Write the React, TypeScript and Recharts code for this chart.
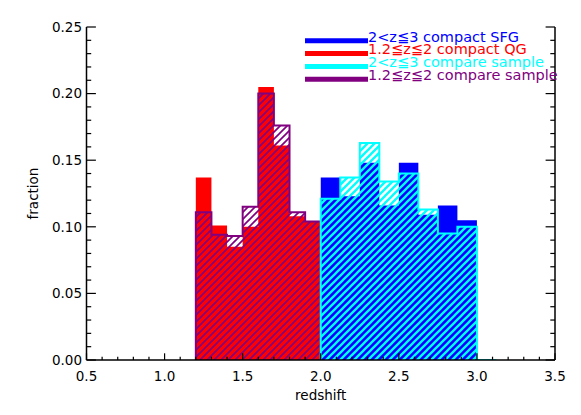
import React from 'react';
import { ComposedChart, Area, XAxis, YAxis, Legend, Label } from 'recharts';

// ---- data ----
const qgEdges = [1.2, 1.3, 1.4, 1.5, 1.6, 1.7, 1.8, 1.9, 2.0];
const compactQG = [0.137, 0.101, 0.085, 0.100, 0.205, 0.161, 0.108, 0.104];
const compareQGEdges = [1.2, 1.3, 1.4, 1.5, 1.6, 1.7, 1.8, 1.9, 2.0, 2.1];
const compareQG = [0.111, 0.094, 0.093, 0.115, 0.200, 0.176, 0.111, 0.104, 0];

const sfgEdges = [2.0, 2.125, 2.25, 2.375, 2.5, 2.625, 2.75, 2.875, 3.0];
const compactSFG = [0.137, 0.123, 0.148, 0.116, 0.148, 0.109, 0.116, 0.105];
const compareSFGEdges = [2.0, 2.125, 2.25, 2.375, 2.5, 2.625, 2.75, 2.875, 3.0, 3.125];
const compareSFG = [0.121, 0.137, 0.163, 0.134, 0.140, 0.113, 0.095, 0.100, 0];

const xMajorTicks = [0.5, 1.0, 1.5, 2.0, 2.5, 3.0, 3.5];
const yMajorTicks = [0.0, 0.05, 0.10, 0.15, 0.20, 0.25];

const legendItems = [
  { label: '2<z≦3 compact SFG', color: '#0000FF' },
  { label: '1.2≦z≦2 compact QG', color: '#FF0000' },
  { label: '2<z≦3 compare sample', color: '#00FFFF' },
  { label: '1.2≦z≦2 compare sample', color: '#800080' },
];

// ---- helpers ----
const xTicks: number[] = [];
for (let i = 5; i <= 35; i++) xTicks.push(i / 10);
const yTicks: number[] = [];
for (let i = 0; i <= 25; i++) yTicks.push(i / 100);

const isMajor = (v: number, list: number[]) => list.some((m) => Math.abs(m - v) < 1e-6);

function toSteps(edges: number[], values: number[]) {
  const pts: { x: number; y: number }[] = [{ x: edges[0], y: 0 }];
  values.forEach((v, i) => pts.push({ x: edges[i], y: v }));
  const n = values.length;
  pts.push({ x: edges[n], y: values[n - 1] });
  pts.push({ x: edges[n], y: 0 });
  return pts;
}

const W = 581;
const H = 415;
const LEFT = 86.5;
const RIGHT = 26;
const TOP = 27;
const BOTTOM = 55;
const FONT = 'DejaVu Sans';
const XMAJ = 6.7, XMIN = 3.3, YMAJ = 9.4, YMIN = 4.7;

const BottomTick = (p: any) => {
  const v = p.payload.value;
  const maj = isMajor(v, xMajorTicks);
  return (
    <g>
      <line x1={p.x} x2={p.x} y1={p.y} y2={p.y - (maj ? XMAJ : XMIN)} stroke="#000" strokeWidth={1.2} />
      {maj && (
        <text x={p.x} y={p.y + 20.5} textAnchor="middle" fontSize={13.5} fontFamily={FONT} fill="#000">
          {v.toFixed(1)}
        </text>
      )}
    </g>
  );
};
const TopTick = (p: any) => {
  const maj = isMajor(p.payload.value, xMajorTicks);
  return <line x1={p.x} x2={p.x} y1={p.y} y2={p.y + (maj ? XMAJ : XMIN)} stroke="#000" strokeWidth={1.2} />;
};
const LeftTick = (p: any) => {
  const v = p.payload.value;
  const maj = isMajor(v, yMajorTicks);
  return (
    <g>
      <line x1={p.x} x2={p.x + (maj ? YMAJ : YMIN)} y1={p.y} y2={p.y} stroke="#000" strokeWidth={1.2} />
      {maj && (
        <text x={p.x - 4.5} y={p.y} dy="0.36em" textAnchor="end" fontSize={13.5} fontFamily={FONT} fill="#000">
          {v.toFixed(2)}
        </text>
      )}
    </g>
  );
};
const RightTick = (p: any) => {
  const maj = isMajor(p.payload.value, yMajorTicks);
  return <line x1={p.x} x2={p.x - (maj ? YMAJ : YMIN)} y1={p.y} y2={p.y} stroke="#000" strokeWidth={1.2} />;
};

const LegendBox = () => (
  <svg width={275} height={62} style={{ overflow: 'visible', display: 'block' }}>
    {legendItems.map((it, i) => {
      const cy = 10.7 + i * 12.85;
      return (
        <g key={it.label}>
          <line x1={5} x2={68} y1={cy} y2={cy} stroke={it.color} strokeWidth={5} />
          <text x={68} y={cy + 0.8} fontSize={14.5} fontFamily={FONT} fill={it.color}>
            {it.label}
          </text>
        </g>
      );
    })}
  </svg>
);

const axisStyle = { stroke: '#000', strokeWidth: 1.5 };

export default function App() {
  return (
    <div style={{ position: 'absolute', left: 0, top: 0, width: W, height: H, background: '#fff' }}>
      <ComposedChart width={W} height={H} margin={{ top: TOP, right: 0, bottom: 0, left: 0 }}>
        <defs>
          <pattern id="hatchPurple" patternUnits="userSpaceOnUse" width={7} height={7}>
            <path d="M-1,1 l2,-2 M0,7 l7,-7 M6,8 l2,-2" stroke="#800080" strokeWidth={1.7} />
          </pattern>
          <pattern id="hatchCyan" patternUnits="userSpaceOnUse" width={7} height={7}>
            <path d="M-1,1 l2,-2 M0,7 l7,-7 M6,8 l2,-2" stroke="#00FFFF" strokeWidth={2.3} />
          </pattern>
        </defs>
        <XAxis
          xAxisId="b"
          dataKey="x"
          type="number"
          domain={[0.5, 3.5]}
          ticks={xTicks}
          interval={0}
          allowDataOverflow
          height={BOTTOM}
          tickSize={0}
          tickMargin={0}
          tickLine={false}
          axisLine={axisStyle}
          tick={<BottomTick />}
        >
          <Label
            content={() => (
              <text x={LEFT + (W - LEFT - RIGHT) / 2} y={H - BOTTOM + 39.5} textAnchor="middle" fontSize={13.5} fontFamily={FONT} fill="#000">
                redshift
              </text>
            )}
          />
        </XAxis>
        <XAxis
          xAxisId="t"
          orientation="top"
          dataKey="x"
          type="number"
          domain={[0.5, 3.5]}
          ticks={xTicks}
          interval={0}
          allowDataOverflow
          height={0}
          tickSize={0}
          tickMargin={0}
          tickLine={false}
          axisLine={axisStyle}
          tick={<TopTick />}
        />
        <YAxis
          yAxisId="l"
          type="number"
          domain={[0, 0.25]}
          ticks={yTicks}
          interval={0}
          allowDataOverflow
          width={LEFT}
          tickSize={0}
          tickMargin={0}
          tickLine={false}
          axisLine={axisStyle}
          tick={<LeftTick />}
        >
          <Label
            content={() => {
              const cx = 37.5;
              const cy = TOP + (H - TOP - BOTTOM) / 2;
              return (
                <text x={cx} y={cy} transform={`rotate(-90, ${cx}, ${cy})`} textAnchor="middle" fontSize={13.5} fontFamily={FONT} fill="#000">
                  fraction
                </text>
              );
            }}
          />
        </YAxis>
        <YAxis
          yAxisId="r"
          orientation="right"
          type="number"
          domain={[0, 0.25]}
          ticks={yTicks}
          interval={0}
          allowDataOverflow
          width={RIGHT}
          tickSize={0}
          tickMargin={0}
          tickLine={false}
          axisLine={axisStyle}
          tick={<RightTick />}
        />
        <Area
          xAxisId="b"
          yAxisId="l"
          data={toSteps(qgEdges, compactQG)}
          dataKey="y"
          type="stepAfter"
          fill="#FF0000"
          fillOpacity={1}
          stroke="none"
          dot={false}
          activeDot={false}
          isAnimationActive={false}
        />
        <Area
          xAxisId="b"
          yAxisId="l"
          data={toSteps(compareQGEdges, compareQG)}
          dataKey="y"
          type="stepAfter"
          fill="url(#hatchPurple)"
          fillOpacity={1}
          stroke="#800080"
          strokeWidth={2}
          dot={false}
          activeDot={false}
          isAnimationActive={false}
        />
        <Area
          xAxisId="b"
          yAxisId="l"
          data={toSteps(sfgEdges, compactSFG)}
          dataKey="y"
          type="stepAfter"
          fill="#0000FF"
          fillOpacity={1}
          stroke="none"
          dot={false}
          activeDot={false}
          isAnimationActive={false}
        />
        <Area
          xAxisId="b"
          yAxisId="l"
          data={toSteps(compareSFGEdges, compareSFG)}
          dataKey="y"
          type="stepAfter"
          fill="url(#hatchCyan)"
          fillOpacity={1}
          stroke="#00FFFF"
          strokeWidth={2}
          dot={false}
          activeDot={false}
          isAnimationActive={false}
        />
        <Legend
          layout="horizontal"
          verticalAlign="middle"
          align="center"
          wrapperStyle={{ position: 'absolute', left: 300, top: 30, width: 275, height: 62 }}
          content={() => <LegendBox />}
        />
      </ComposedChart>
    </div>
  );
}
